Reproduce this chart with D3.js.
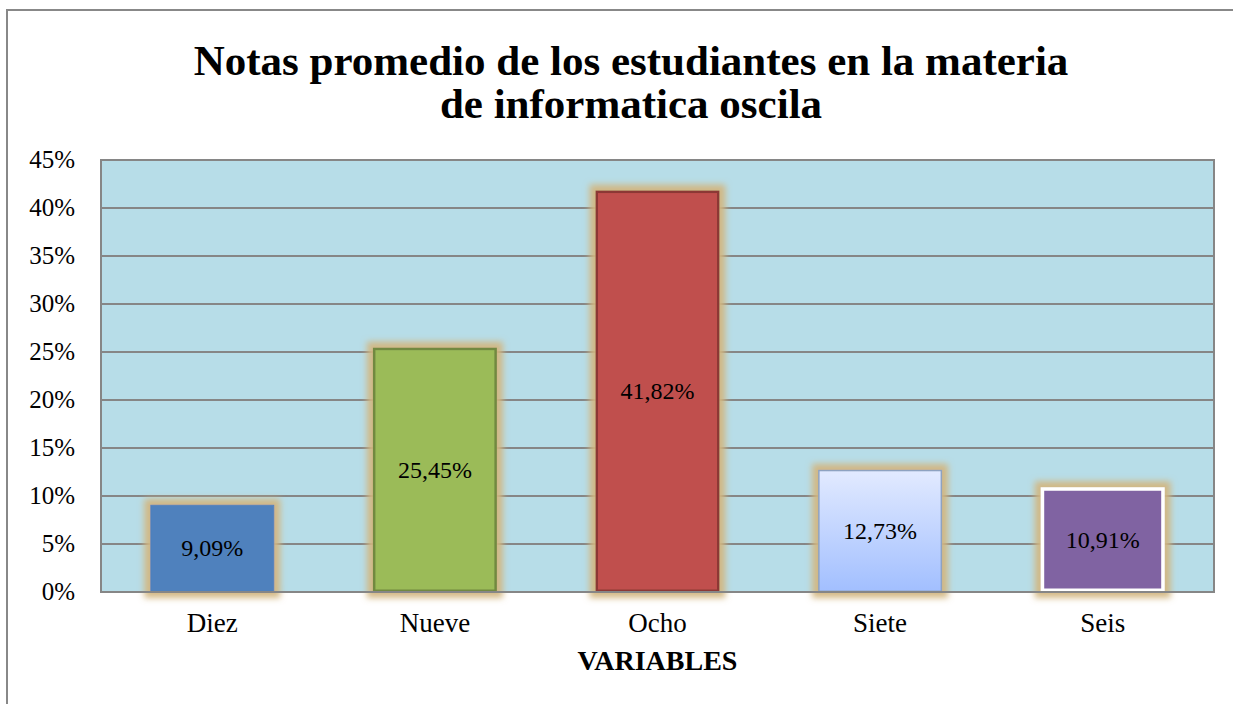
<!DOCTYPE html>
<html><head><meta charset="utf-8">
<script src="https://cdn.jsdelivr.net/npm/d3@7"></script>
<style>body{margin:0;background:#fff}svg{display:block}</style>
</head><body>
<script>
const categories = ["Diez","Nueve","Ocho","Siete","Seis"];
const values = [9.09, 25.45, 41.82, 12.73, 10.91];
const labels = ["9,09%","25,45%","41,82%","12,73%","10,91%"];
const yTicks = [0,5,10,15,20,25,30,35,40,45];
const fills = ["#4f81bd","#9bbb59","#c0504d","url(#gradSiete)","#8064a2"];
const strokes = ["#4f81bd","#71893f","#8c3836","#8ea2c0","#ffffff"];
const strokeW = [1,2.5,2.5,1.5,3.5];
const titleLines = ["Notas promedio de los estudiantes en la materia","de informatica oscila"];

const W=1233,H=704;
const svg=d3.select("body").append("svg").attr("width",W).attr("height",H);
const defs=svg.append("defs");
const g1=defs.append("linearGradient").attr("id","gradSiete").attr("x1",0).attr("y1",0).attr("x2",0).attr("y2",1);
g1.append("stop").attr("offset","0%").attr("stop-color","#e2eaff");
g1.append("stop").attr("offset","100%").attr("stop-color","#a2bfff");
const f=defs.append("filter").attr("id","glow").attr("x","-30%").attr("y","-30%").attr("width","160%").attr("height","160%");
f.append("feMorphology").attr("in","SourceAlpha").attr("operator","dilate").attr("radius",6).attr("result","d");
f.append("feGaussianBlur").attr("in","d").attr("stdDeviation",3).attr("result","b");
f.append("feFlood").attr("flood-color","#d2b680").attr("flood-opacity",0.95);
f.append("feComposite").attr("in2","b").attr("operator","in").attr("result","c");
const fm=f.append("feMerge");
fm.append("feMergeNode").attr("in","c");
fm.append("feMergeNode").attr("in","SourceGraphic");

// outer border
svg.append("rect").attr("x",7).attr("y",10).attr("width",W+10).attr("height",H+10)
  .attr("fill","#fff").attr("stroke","#888").attr("stroke-width",2);

const m={l:101,r:1214,t:160,b:592};
const x=d3.scaleBand().domain(categories).range([m.l,m.r]).paddingInner(0).paddingOuter(0);
const y=d3.scaleLinear().domain([0,45]).range([m.b,m.t]);
const bw=x.bandwidth()*0.557;

svg.append("rect").attr("x",m.l).attr("y",m.t).attr("width",m.r-m.l).attr("height",m.b-m.t)
  .attr("fill","#b7dde8");
svg.append("g").selectAll("line").data(yTicks.filter(d=>d>0)).join("line")
  .attr("x1",m.l).attr("x2",m.r).attr("y1",d=>y(d)).attr("y2",d=>y(d))
  .attr("stroke","#868686").attr("stroke-width",2);
svg.append("rect").attr("x",m.l).attr("y",m.t).attr("width",m.r-m.l).attr("height",m.b-m.t)
  .attr("fill","none").attr("stroke","#868686").attr("stroke-width",2);

const bars=svg.append("g");
categories.forEach((c,i)=>{
  const cx=x(c)+x.bandwidth()/2;
  const sw=strokeW[i];
  bars.append("rect").attr("x",cx-bw/2+sw/2).attr("y",y(values[i])+sw/2)
    .attr("width",bw-sw).attr("height",y(0)-y(values[i])-sw)
    .attr("fill",fills[i]).attr("stroke",strokes[i]).attr("stroke-width",sw)
    .attr("filter","url(#glow)");
});
// baseline
svg.append("line").attr("x1",m.l).attr("x2",m.r).attr("y1",m.b).attr("y2",m.b).attr("stroke","#868686").attr("stroke-width",2);

const serif="'Liberation Serif', serif";
svg.append("g").selectAll("text").data(categories).join("text")
  .attr("x",(d)=>x(d)+x.bandwidth()/2).attr("y",(d,i)=>(y(values[i])+y(0))/2+8)
  .attr("text-anchor","middle").attr("font-family",serif).attr("font-size",24).attr("fill","#000")
  .text((d,i)=>labels[i]);

// y ticks
svg.append("g").selectAll("text").data(yTicks).join("text")
  .attr("x",75).attr("y",d=>y(d)+8).attr("text-anchor","end")
  .attr("font-family",serif).attr("font-size",25).text(d=>d+"%");
// x labels
svg.append("g").selectAll("text").data(categories).join("text")
  .attr("x",d=>x(d)+x.bandwidth()/2).attr("y",632).attr("text-anchor","middle")
  .attr("font-family",serif).attr("font-size",27).text(d=>d);
svg.append("text").attr("x",(m.l+m.r)/2).attr("y",670).attr("text-anchor","middle")
  .attr("font-family",serif).attr("font-weight","bold").attr("font-size",28).text("VARIABLES");
svg.append("g").selectAll("text").data(titleLines).join("text")
  .attr("x",631).attr("y",(d,i)=>75+i*43).attr("text-anchor","middle")
  .attr("font-family",serif).attr("font-weight","bold").attr("font-size",43).text(d=>d);
</script>
</body></html>
